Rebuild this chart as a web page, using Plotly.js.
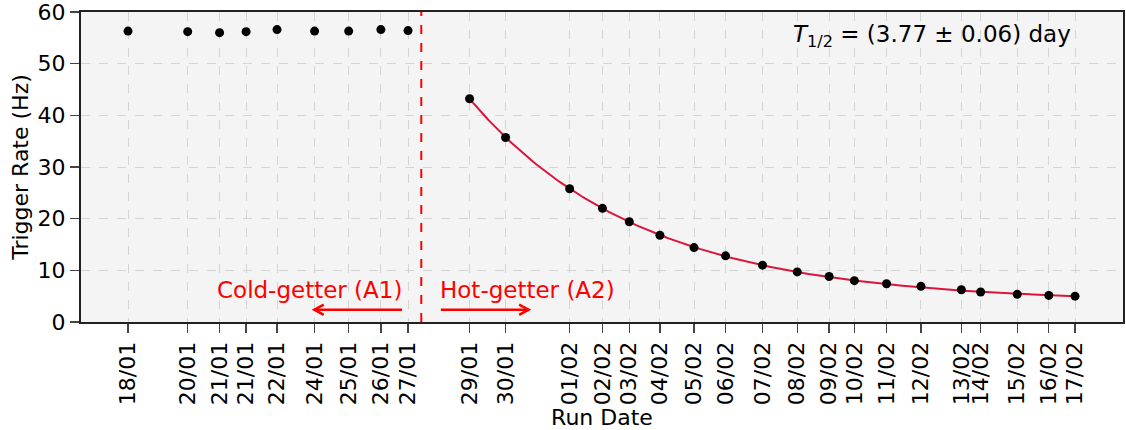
<!DOCTYPE html>
<html>
<head>
<meta charset="utf-8">
<script src="https://cdn.plot.ly/plotly-3.0.1.min.js"></script>
<style>
  html, body { margin: 0; padding: 0; background: #ffffff; }
  #chart { width: 1126px; height: 430px; }
</style>
</head>
<body>
<div id="chart"></div>
<script>
// Run times, in days after the first run (18/01)
const coldDays = [0.00, 1.89, 2.90, 3.74, 4.72, 5.91, 6.99, 8.01, 8.87];
const coldDates = ["18/01", "20/01", "21/01", "21/01", "22/01", "24/01", "25/01", "26/01", "27/01"];
const coldRate = [56.3, 56.2, 56.0, 56.2, 56.6, 56.3, 56.3, 56.6, 56.4];

const hotDays = [10.82, 11.96, 13.99, 15.03, 15.88, 16.85, 17.93, 18.93, 20.10, 21.20,
                 22.21, 23.01, 24.03, 25.12, 26.40, 27.01, 28.17, 29.17, 30.00];
const hotDates = ["29/01", "30/01", "01/02", "02/02", "03/02", "04/02", "05/02", "06/02", "07/02", "08/02",
                  "09/02", "10/02", "11/02", "12/02", "13/02", "14/02", "15/02", "16/02", "17/02"];
const hotRate = [43.2, 35.7, 25.8, 22.0, 19.4, 16.8, 14.4, 12.8, 11.0, 9.7,
                 8.8, 8.0, 7.4, 6.9, 6.25, 5.8, 5.35, 5.15, 5.0];

// Getter switch (cold -> hot)
const switchDay = 9.29;

// Exponential decay fit to the hot-getter runs: R(t) = A * 2^(-(t - t0)/T½) + C
const halfLife = 3.77;
const halfLifeErr = 0.06;
const fitT0 = 10.82;
const fitA = 39.36;
const fitC = 3.84;

const fitX = [];
const fitY = [];
const nFit = 200;
for (let i = 0; i <= nFit; i++) {
  const t = hotDays[0] + (hotDays[hotDays.length - 1] - hotDays[0]) * i / nFit;
  fitX.push(t);
  fitY.push(fitA * Math.pow(2, -(t - fitT0) / halfLife) + fitC);
}

const allDays = coldDays.concat(hotDays);
const allDates = coldDates.concat(hotDates);

const FONT = "DejaVu Sans, sans-serif";

const traces = [
  {
    x: fitX, y: fitY, mode: "lines", type: "scatter",
    line: { color: "#dc143c", width: 2 },
    hoverinfo: "skip", showlegend: false
  },
  {
    x: coldDays, y: coldRate, mode: "markers", type: "scatter",
    marker: { color: "#000000", size: 9 },
    showlegend: false
  },
  {
    x: hotDays, y: hotRate, mode: "markers", type: "scatter",
    marker: { color: "#000000", size: 9 },
    showlegend: false
  }
];

const redFont = { family: FONT, size: 23, color: "#ff0000" };

// Direction arrows under the getter labels: shaft plus open chevron head
const arrowY = 2.38;
const coldArrow = { from: 8.68, to: 5.90 };
const hotArrow = { from: 9.91, to: 12.69 };
const headDx = 0.30, headDy = 1.0;

function arrowShapes(a) {
  const dir = a.to > a.from ? 1 : -1;
  const bx = a.to - dir * headDx;
  const style = { color: "#ff0000", width: 2.5 };
  return [
    { type: "line", xref: "x", yref: "y", x0: a.from, x1: a.to, y0: arrowY, y1: arrowY, line: style },
    {
      type: "path", xref: "x", yref: "y",
      path: "M" + bx + "," + (arrowY + headDy) + " L" + a.to + "," + arrowY + " L" + bx + "," + (arrowY - headDy),
      line: style
    }
  ];
}

const layout = {
  width: 1126, height: 430,
  margin: { l: 81, r: 3, t: 12, b: 108 },
  paper_bgcolor: "#ffffff",
  plot_bgcolor: "#f4f4f4",
  font: { family: FONT, size: 22, color: "#000000" },
  showlegend: false,
  xaxis: {
    range: [-1.49, 31.52],
    tickmode: "array",
    tickvals: allDays,
    ticktext: allDates,
    tickangle: -90,
    ticks: "outside", ticklen: 9, tickwidth: 1.3, tickcolor: "#444444",
    tickfont: { family: FONT, size: 22, color: "#000000" },
    ticklabeloverflow: "allow",
    showgrid: true, gridcolor: "#d4d4d4", griddash: "dash", gridwidth: 1,
    showline: true, mirror: true, linecolor: "#222222", linewidth: 2,
    zeroline: false,
    title: { text: "Run Date", font: { family: FONT, size: 22, color: "#000000" }, standoff: 6 }
  },
  yaxis: {
    range: [0, 60],
    tickmode: "array",
    tickvals: [0, 10, 20, 30, 40, 50, 60],
    ticks: "outside", ticklen: 9, tickwidth: 1.3, tickcolor: "#444444",
    tickfont: { family: FONT, size: 22, color: "#000000" },
    ticklabeloverflow: "allow",
    showgrid: true, gridcolor: "#d4d4d4", griddash: "dash", gridwidth: 1,
    showline: true, mirror: true, linecolor: "#222222", linewidth: 2,
    zeroline: false,
    title: { text: "Trigger Rate (Hz)", font: { family: FONT, size: 22, color: "#000000" }, standoff: 3 }
  },
  shapes: [
    {
      type: "line", xref: "x", yref: "paper",
      x0: switchDay, x1: switchDay, y0: 0, y1: 1,
      line: { color: "#ff0000", width: 2, dash: "dash" }
    }
  ].concat(arrowShapes(coldArrow), arrowShapes(hotArrow)),
  annotations: [
    {
      xref: "x", yref: "y", x: 8.75, y: 6.25,
      text: "Cold-getter (A1)", showarrow: false,
      xanchor: "right", yanchor: "middle", font: redFont
    },
    {
      xref: "x", yref: "y", x: 9.81, y: 6.25,
      text: "Hot-getter (A2)", showarrow: false,
      xanchor: "left", yanchor: "middle", font: redFont
    },
    {
      xref: "paper", yref: "paper", x: 0.952, y: 0.923,
      text: "<i>T</i><sub>1/2</sub> = (" + halfLife.toFixed(2) + " ± " + halfLifeErr.toFixed(2) + ") day",
      showarrow: false, xanchor: "right", yanchor: "middle",
      font: { family: FONT, size: 23, color: "#000000" }
    }
  ]
};

Plotly.newPlot("chart", traces, layout, { staticPlot: true, displayModeBar: false });
</script>
</body>
</html>
